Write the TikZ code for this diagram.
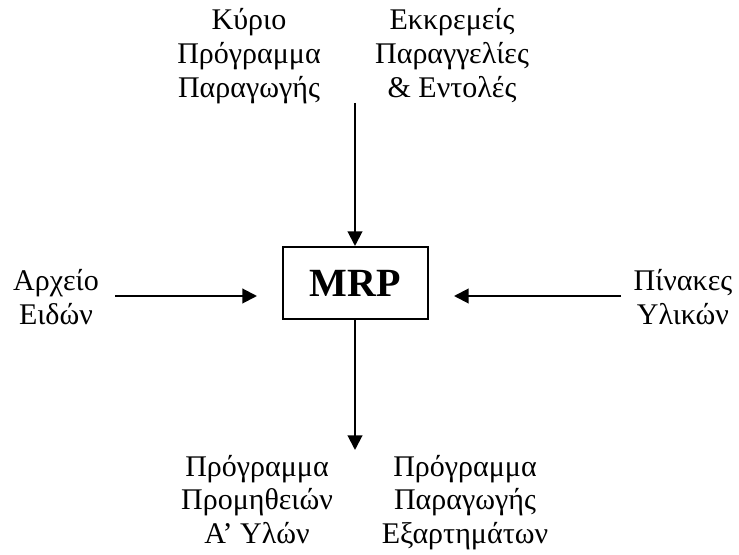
\documentclass[tikz,border=0pt]{standalone}
\usepackage{fontspec}
\setmainfont{Liberation Serif}
\usetikzlibrary{arrows.meta}
\begin{document}
\begin{tikzpicture}[x=0.75pt,y=-0.75pt,
  label/.style={align=center,font=\fontsize{22.5}{25.5}\selectfont,inner sep=0pt,anchor=base},
  core/.style={draw,line width=1.5pt,minimum width=108.75pt,minimum height=54pt,
    inner sep=0pt,font=\fontsize{30}{36}\selectfont\bfseries},
  flow/.style={line width=1.5pt,-{Triangle[length=11pt,width=11pt]}}]
  \useasboundingbox (0,0) rectangle (739,555);
  % central block
  \node[core] (mrp) at (355.5,283) {MRP};
  % inputs and outputs (placed by the baseline of the last line)
  \node[label] (master) at (249,98) {Κύριο\\Πρόγραμμα\\Παραγωγής};
  \node[label] (orders) at (452,98) {Εκκρεμείς\\Παραγγελίες\\\& Εντολές};
  \node[label] (items) at (56,325) {Αρχείο\\Ειδών};
  \node[label] (bom) at (683,325) {Πίνακες\\Υλικών};
  \node[label] (purch) at (257,544) {Πρόγραμμα\\Προμηθειών\\Α’ Υλών};
  \node[label] (parts) at (465,544) {Πρόγραμμα\\Παραγωγής\\Εξαρτημάτων};
  % free ends of the connectors
  \coordinate (topin) at (355,103);
  \coordinate (leftin) at (115,296);
  \coordinate (rightin) at (621,296);
  \coordinate (botout) at (355,450);
  % connectors
  \draw[flow] (topin) -- (topin |- mrp.north);
  \draw[flow,shorten >=18.75pt] (leftin) -- (leftin -| mrp.west);
  \draw[flow,shorten >=18.75pt] (rightin) -- (rightin -| mrp.east);
  \draw[flow] (botout |- mrp.south) -- (botout);
\end{tikzpicture}
\end{document}
